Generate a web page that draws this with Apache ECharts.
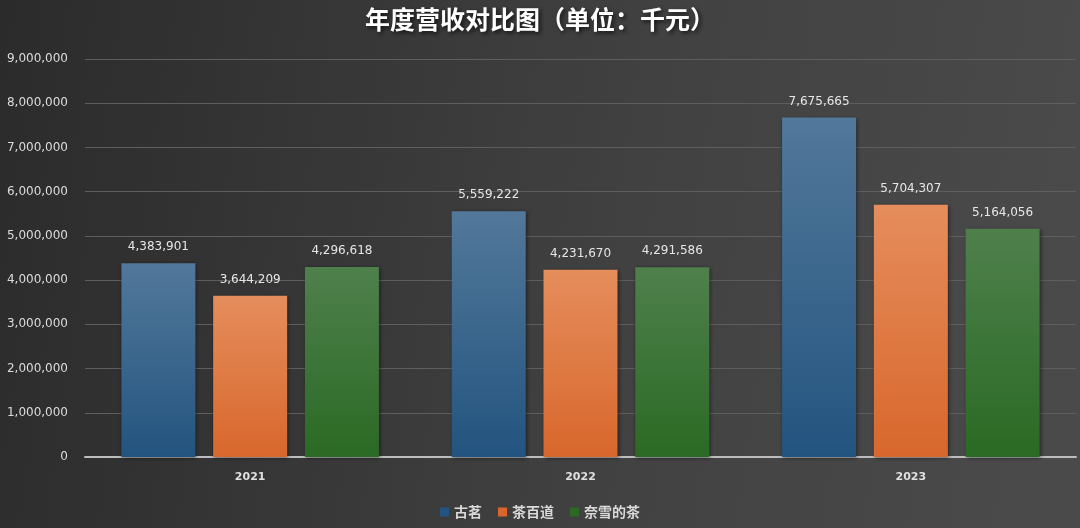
<!DOCTYPE html>
<html><head><meta charset="utf-8">
<script src="https://cdn.jsdelivr.net/npm/echarts@6/dist/echarts.min.js"></script>
<style>html,body{margin:0;padding:0;background:#3a3a3a}#c{width:1080px;height:528px}</style>
</head><body><div id="c"></div>
<script>
const categories = ['2021', '2022', '2023'];
const seriesNames = ['古茗', '茶百道', '奈雪的茶'];
const guming = [4383901, 5559222, 7675665];
const chabaidao = [3644209, 4231670, 5704307];
const naixue = [4296618, 4291586, 5164056];
const yTicks = [0, 1000000, 2000000, 3000000, 4000000, 5000000, 6000000, 7000000, 8000000, 9000000];

const grads = [
  ['#52789a', '#23547f'],
  ['#e58d5c', '#d8672c'],
  ['#4f804c', '#2a6a24']
];
function grad(i){
  return new echarts.graphic.LinearGradient(0,0,0,1,[{offset:0,color:grads[i][0]},{offset:1,color:grads[i][1]}]);
}
const fmt = v => v.toLocaleString('en-US');
const chart = echarts.init(document.getElementById('c'));
const data = [guming, chabaidao, naixue];
chart.setOption({
  backgroundColor: new echarts.graphic.LinearGradient(0,0,1,0.3,[{offset:0,color:'#2b2b2b'},{offset:0.6,color:'#414141'},{offset:1,color:'#4a4a4a'}]),
  title: {
    text: '年度营收对比图（单位：千元）', left: 'center', top: 2,
    textStyle: {color:'#ffffff', fontSize: 25, fontWeight:'bold', fontFamily:'Noto Sans CJK SC',
      textShadowColor:'rgba(0,0,0,0.7)', textShadowBlur:4, textShadowOffsetX:2, textShadowOffsetY:2}
  },
  legend: {
    bottom: 4, left: 'center', itemWidth: 9, itemHeight: 9, itemGap: 16,
    icon: 'rect',
    textStyle: {color:'#d9d9d9', fontSize: 14, fontFamily:'Noto Sans CJK SC', fontWeight:'bold'},
    data: seriesNames.map((n,i)=>({name:n, itemStyle:{color:grads[i][1]}}))
  },
  grid: {left: 85, right: 4, top: 59, bottom: 71, containLabel: false},
  xAxis: {
    type: 'category', data: categories,
    axisLine: {lineStyle:{color:'#bdbdbd', width:2}},
    axisTick: {show:false},
    axisLabel: {color:'#e0e0e0', fontSize: 11, fontWeight:'bold', margin: 15, fontFamily:'DejaVu Sans'}
  },
  yAxis: {
    type: 'value', min: yTicks[0], max: yTicks[yTicks.length-1], interval: 1000000,
    axisLine: {show:false}, axisTick:{show:false},
    splitLine: {lineStyle:{color:'#5e5e5e', width:1}},
    axisLabel: {color:'#dcdcdc', fontSize: 12, margin: 17, fontFamily:'DejaVu Sans', formatter: v => fmt(v)}
  },
  series: seriesNames.map((n,i)=>({
    name: n, type:'bar', data: data[i],
    barWidth: 74, barGap: '24%', barCategoryGap: '21%',
    itemStyle: {color: grad(i), shadowColor:'rgba(0,0,0,0.5)', shadowBlur:4, shadowOffsetX:1, shadowOffsetY:1},
    label: {show:true, position:'top', distance: 10, color:'#e6e6e6', fontSize: 12, fontFamily:'DejaVu Sans', formatter: p => fmt(p.value)}
  }))
});
</script></body></html>
